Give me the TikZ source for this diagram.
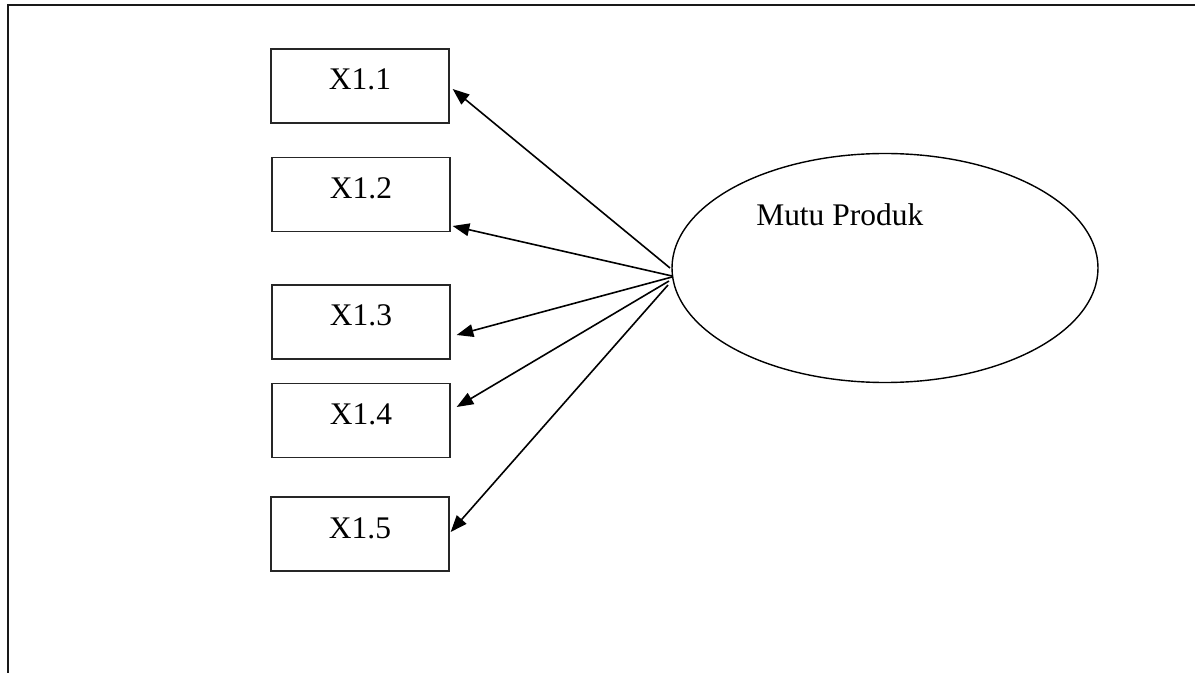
\documentclass[tikz,border=0pt]{standalone}
\usepackage{fontspec}
\setmainfont{Liberation Serif}
\usetikzlibrary{shapes.geometric,arrows.meta}
\begin{document}
\begin{tikzpicture}[x=0.75pt,y=-0.75pt,
  indbox/.style={draw=black!85,line width=1pt,rectangle,inner sep=0pt,
    minimum width=133.5pt,minimum height=55.5pt,text height=30.75pt,text depth=24.75pt,
    font=\fontsize{23.6}{28}\selectfont},
  latent/.style={draw=black,line width=1.05pt,ellipse,inner sep=0pt,
    minimum width=319.5pt,minimum height=171.75pt},
  arr/.style={line width=1.2pt,-{Triangle[length=12.5pt,width=9.5pt]}},
  frameline/.style={line width=2.1pt,black!90}]
\useasboundingbox (0,0) rectangle (1195,673);
\fill[white] (0,0) rectangle (1195,673);
\draw[frameline] (8,673) -- (8,5) -- (1195,5);

\node[indbox] (b1) at (360,86) {X1.1};
\node[indbox] (b2) at (361,194.5) {X1.2};
\node[indbox] (b3) at (361,322) {X1.3};
\node[indbox] (b4) at (361,420.5) {X1.4};
\node[indbox] (b5) at (360,534) {X1.5};

\node[latent] (mp) at (885,268) {};
\node[anchor=base west,inner sep=0pt,font=\fontsize{23.6}{28}\selectfont] (mpt) at (756,226) {Mutu Produk};

\coordinate (s1) at (670,268);
\coordinate (s2) at (672,276);
\coordinate (s3) at (672,277);
\coordinate (s4) at (669,281);
\coordinate (s5) at (668,285);

\coordinate (t1) at ([shift={(3,3)}]b1.east);
\coordinate (t2) at ([shift={(2,31.5)}]b2.east);
\coordinate (t3) at ([shift={(6,13)}]b3.east);
\coordinate (t4) at ([shift={(6,-13.5)}]b4.east);
\coordinate (t5) at ([shift={(1,-2)}]b5.east);

\draw[arr] (s1) -- (t1);
\draw[arr] (s2) -- (t2);
\draw[arr] (s3) -- (t3);
\draw[arr] (s4) -- (t4);
\draw[arr] (s5) -- (t5);
\end{tikzpicture}
\end{document}
